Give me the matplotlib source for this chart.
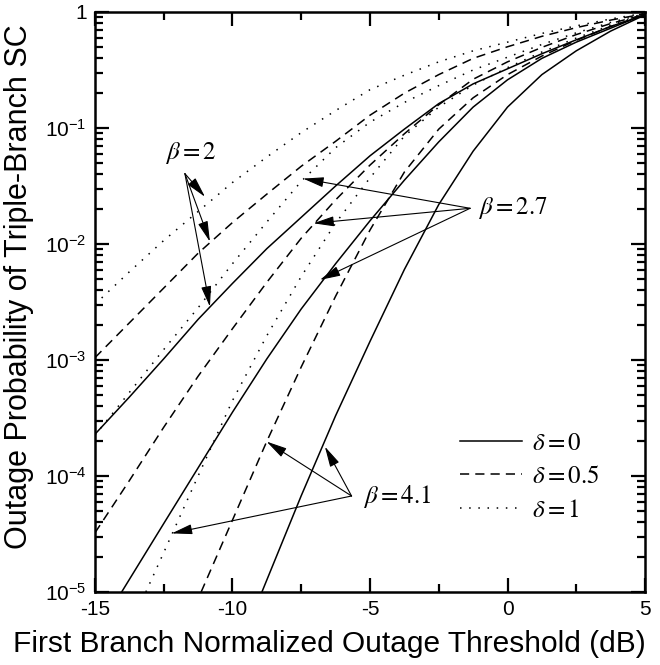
import math
import numpy as np
import matplotlib
matplotlib.use("Agg")
import matplotlib.pyplot as plt
from matplotlib.ticker import FixedLocator, LogLocator, FuncFormatter, NullFormatter

plt.rcParams["font.family"] = ["Liberation Sans", "DejaVu Sans"]
plt.rcParams["mathtext.fontset"] = "stix"
plt.rcParams["axes.unicode_minus"] = False

# first branch threshold (dB) and log10 of the outage probability
x_full = [-15, -13.75, -12.5, -11.25, -10, -8.75, -7.5, -6.25, -5, -3.75, -2.5, -1.25, 0, 1.25, 2.5, 3.75, 5]

# beta = 2
logp_b2_d0 = [-3.64, -3.32, -2.99, -2.65, -2.34, -2.04, -1.77, -1.50, -1.24, -1.01, -0.79, -0.62, -0.49,
              -0.36, -0.24, -0.125, -0.025]
logp_b2_d05 = [-2.98, -2.68, -2.38, -2.08, -1.815, -1.57, -1.33, -1.115, -0.89, -0.70, -0.54, -0.40, -0.30,
               -0.21, -0.135, -0.07, -0.015]
logp_b2_d1 = [-2.52, -2.24, -1.97, -1.72, -1.47, -1.25, -1.04, -0.85, -0.67, -0.545, -0.43, -0.335, -0.26,
              -0.185, -0.12, -0.06, -0.01]

# beta = 2.7
x_b27_d0 = [-14.03, -12.5, -11.25, -10, -8.75, -7.5, -6.25, -5, -3.75, -2.5, -1.25, 0, 1.25, 2.5, 3.75, 5]
logp_b27_d0 = [-5.0, -4.41, -3.93, -3.45, -2.99, -2.56, -2.17, -1.80, -1.45, -1.12, -0.82, -0.585, -0.40,
               -0.26, -0.14, -0.02]
logp_b27_d05 = [-4.49, -4.04, -3.58, -3.14, -2.73, -2.33, -1.95, -1.62, -1.32, -1.05, -0.80, -0.58, -0.43,
                -0.305, -0.195, -0.10, -0.02]
logp_b27_d1 = [-3.65, -3.28, -2.91, -2.55, -2.17, -1.81, -1.46, -1.17, -0.95, -0.78, -0.635, -0.50, -0.39,
               -0.28, -0.18, -0.09, -0.015]

# beta = 4.1
x_b41_d0 = [-8.93, -7.5, -6.25, -5, -3.75, -2.5, -1.25, 0, 1.25, 2.5, 3.75, 5]
logp_b41_d0 = [-5.0, -4.17, -3.48, -2.84, -2.22, -1.66, -1.20, -0.82, -0.54, -0.335, -0.165, -0.025]
x_b41_d05 = [-11.14, -10, -8.75, -7.5, -6.25, -5, -3.75, -2.5, -1.25, 0, 1.25, 2.5, 3.75, 5]
logp_b41_d05 = [-5.0, -4.38, -3.70, -3.06, -2.45, -1.88, -1.38, -1.01, -0.74, -0.54, -0.38, -0.245, -0.125, -0.025]
x_b41_d1 = [-13.15, -12.5, -11.25, -10, -8.75, -7.5, -6.25, -5, -3.75, -2.5, -1.25, 0, 1.25, 2.5, 3.75, 5]
logp_b41_d1 = [-5.0, -4.66, -4.00, -3.35, -2.79, -2.28, -1.82, -1.43, -1.07, -0.82, -0.63, -0.48, -0.345,
               -0.225, -0.115, -0.02]

delta_labels = [r"$\delta = 0$", r"$\delta = 0.5$", r"$\delta = 1$"]

# line styles for delta = 0, 0.5, 1
solid = "-"
dashed = (0, (6, 4))
dotted = (0, (1, 5))

fig = plt.figure(figsize=(6.6, 6.65), dpi=100)
ax = fig.add_axes([0.1439, 0.1098, 0.8334, 0.8722])


def curve(x, logp, ls):
    line, = ax.plot(x, np.power(10.0, logp), linestyle=ls, color="k", lw=1.1)
    return line


l0 = curve(x_full, logp_b2_d0, solid)
l05 = curve(x_full, logp_b2_d05, dashed)
l1 = curve(x_full, logp_b2_d1, dotted)
curve(x_b27_d0, logp_b27_d0, solid)
curve(x_full, logp_b27_d05, dashed)
curve(x_full, logp_b27_d1, dotted)
curve(x_b41_d0, logp_b41_d0, solid)
curve(x_b41_d05, logp_b41_d05, dashed)
curve(x_b41_d1, logp_b41_d1, dotted)

ax.set_yscale("log")
ax.set_xlim(-15, 5)
ax.set_ylim(1e-5, 1)

ax.xaxis.set_major_locator(FixedLocator([-15, -10, -5, 0, 5]))
ax.xaxis.set_minor_locator(FixedLocator([-12.5, -7.5, -2.5, 2.5]))
ax.yaxis.set_major_locator(LogLocator(base=10, numticks=10))
ax.yaxis.set_minor_locator(LogLocator(base=10, subs=range(2, 10), numticks=20))
ax.yaxis.set_minor_formatter(NullFormatter())


def ylab(v, pos):
    if v >= 1:
        return "1"
    return r"$\mathdefault{10^{%d}}$" % int(round(math.log10(v)))


ax.yaxis.set_major_formatter(FuncFormatter(ylab))

ax.tick_params(which="both", direction="in", top=True, right=True, width=1.6)
ax.tick_params(which="major", length=10, labelsize=15, pad=6)
ax.tick_params(which="minor", length=6)
for sp in ax.spines.values():
    sp.set_linewidth(1.8)

ax.set_xlabel("First Branch Normalized Outage Threshold (dB)", fontsize=21.5)
ax.xaxis.set_label_coords(0.427, -0.066)
ax.set_ylabel("Outage Probability of Triple-Branch SC", fontsize=22)
ax.yaxis.set_label_coords(-0.111, 0.526)

arrow = dict(arrowstyle="-|>,head_length=0.9,head_width=0.22", color="k", lw=0.8,
             shrinkA=0, shrinkB=0, mutation_scale=14)

# beta = 2 annotation
ax.text(-11.51, 0.0608, r"$\beta = 2$", fontsize=18, ha="center", va="center")
for tx, ty in [(-11.0, 0.0255), (-10.82, 0.01047), (-10.82, 2.88e-3)]:
    ax.annotate("", xy=(tx, ty), xytext=(-11.73, 0.0404), arrowprops=arrow)

# beta = 2.7 annotation
ax.text(-1.07, 0.0203, r"$\beta = 2.7$", fontsize=18, ha="left", va="center")
for tx, ty in [(-7.43, 0.0366), (-7.06, 0.01508), (-6.82, 4.9e-3)]:
    ax.annotate("", xy=(tx, ty), xytext=(-1.36, 0.0203), arrowprops=arrow)

# beta = 4.1 annotation
ax.text(-5.25, 6.72e-5, r"$\beta = 4.1$", fontsize=18, ha="left", va="center")
for tx, ty in [(-8.76, 1.98e-4), (-6.64, 1.79e-4), (-12.21, 3.2e-5)]:
    ax.annotate("", xy=(tx, ty), xytext=(-5.67, 6.72e-5), arrowprops=arrow)

ax.legend([l0, l05, l1], delta_labels, loc="upper left", bbox_to_anchor=(0.6636, 0.278),
          frameon=False, fontsize=18, handlelength=2.5, handletextpad=0.4,
          labelspacing=0.38, borderpad=0, borderaxespad=0)

fig.savefig("out.png", dpi=100)
